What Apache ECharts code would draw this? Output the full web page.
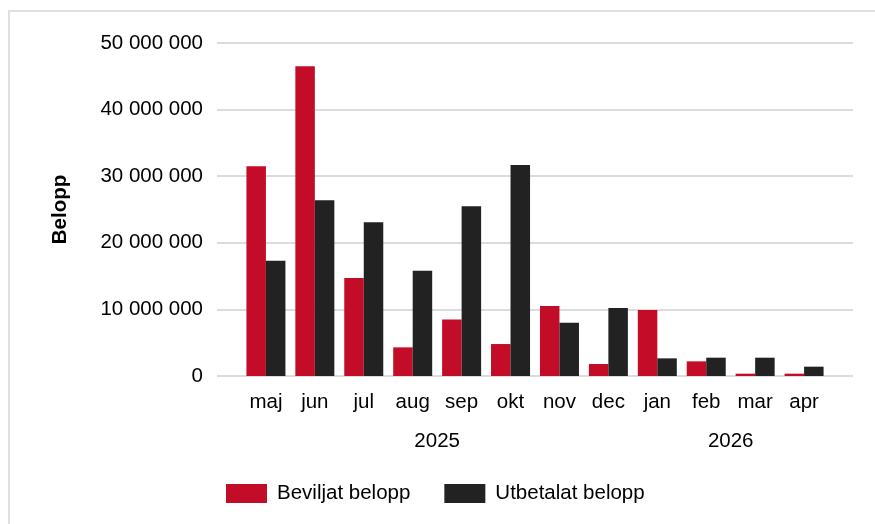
<!DOCTYPE html>
<html>
<head>
<meta charset="utf-8">
<script src="https://cdn.jsdelivr.net/npm/echarts@6/dist/echarts.min.js"></script>
<style>
  html, body { margin: 0; padding: 0; background: #fff; }
  #frame {
    position: absolute; left: 8px; top: 10px; width: 900px; height: 560px;
    border-left: 2px solid #e0e0e0; border-top: 2px solid #e0e0e0;
  }
  #chart { position: absolute; left: 0; top: 0; width: 875px; height: 524px; }
</style>
</head>
<body>
<div id="frame"></div>
<div id="chart"></div>
<script>
const months = ["maj", "jun", "jul", "aug", "sep", "okt", "nov", "dec", "jan", "feb", "mar", "apr"];
const years = ["2025", "2026"];
const monthsPerYear = [8, 4];
const beviljat = [31500000, 46500000, 14700000, 4300000, 8500000, 4800000, 10500000, 1800000, 9900000, 2200000, 350000, 350000];
const utbetalat = [17300000, 26400000, 23100000, 15800000, 25500000, 31700000, 8000000, 10200000, 2650000, 2750000, 2750000, 1400000];
const yTicks = [0, 10000000, 20000000, 30000000, 40000000, 50000000];

const font = "Liberation Sans, Arial, sans-serif";
const fs = 20.5;

function spaced(v) {
  return String(v).replace(/\B(?=(\d{3})+(?!\d))/g, " ");
}

// one empty slot at each end so the grid lines run half a band past the bars
const axisData = [""].concat(months, [""]);
const pad = (arr) => [null].concat(arr, [null]);

// year label positions: centre of each year's run of months
const yearCenters = [];
let start = 1;
for (const n of monthsPerYear) {
  yearCenters.push(start + (n - 1) / 2);
  start += n;
}

const chart = echarts.init(document.getElementById("chart"));
chart.setOption({
  animation: false,
  textStyle: { fontFamily: font },
  grid: { left: 217, right: 22, top: 43, bottom: 148 },
  legend: {
    left: 226,
    top: 483,
    padding: 0,
    itemWidth: 41,
    itemHeight: 19,
    itemGap: 34,
    icon: "rect",
    textStyle: { fontSize: fs, color: "#000", fontFamily: font, padding: [0, 0, 0, 5] },
    data: ["Beviljat belopp", "Utbetalat belopp"],
  },
  xAxis: [
    {
      type: "category",
      data: axisData,
      boundaryGap: false,
      axisLine: { show: false },
      axisTick: { show: false },
      axisLabel: { fontSize: fs, color: "#000", margin: 16, interval: 0 },
    },
    {
      type: "value",
      min: 0,
      max: axisData.length - 1,
      position: "bottom",
      offset: 40,
      axisLine: { show: false },
      axisTick: { show: false },
      splitLine: { show: false },
      axisLabel: {
        fontSize: fs,
        color: "#000",
        margin: 15,
        customValues: yearCenters,
        formatter: (v) => years[yearCenters.indexOf(v)] || "",
      },
    },
  ],
  yAxis: {
    type: "value",
    min: 0,
    max: 50000000,
    interval: 10000000,
    name: "Belopp",
    nameLocation: "middle",
    nameGap: 146,
    nameTextStyle: { fontSize: fs, fontWeight: "bold", color: "#000" },
    axisLine: { show: false },
    axisTick: { show: false },
    splitLine: { lineStyle: { color: "#dcdcdc", width: 2 } },
    axisLabel: {
      fontSize: fs,
      color: "#000",
      margin: 14,
      customValues: yTicks,
      formatter: spaced,
    },
  },
  series: [
    {
      name: "Beviljat belopp",
      type: "bar",
      data: pad(beviljat),
      barWidth: 19.5,
      barGap: "0%",
      itemStyle: { color: "#c20c28" },
    },
    {
      name: "Utbetalat belopp",
      type: "bar",
      data: pad(utbetalat),
      barWidth: 19.5,
      barGap: "0%",
      itemStyle: { color: "#222222" },
    },
  ],
});
</script>
</body>
</html>
